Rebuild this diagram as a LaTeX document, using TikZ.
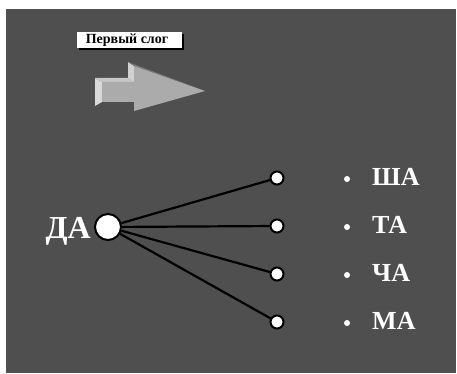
\documentclass[tikz,border=0pt]{standalone}
\usepackage{fontspec}
\setmainfont{Liberation Serif}
\usepackage{tikz}
\usetikzlibrary{calc}
\definecolor{slide}{HTML}{4F4F4F}

\begin{document}
\begin{tikzpicture}[x=1pt, y=-1pt,
		syl/.style={font=\bfseries\fontsize{26}{26}\selectfont, text=white, anchor=base west, inner sep=0pt},
		leaf/.style={circle, draw=black, line width=2pt, fill=white, inner sep=0pt, minimum size=13pt},
		link/.style={line width=2.2pt, black},
		dot/.style={circle, fill=white, inner sep=0pt, minimum size=6pt}]
			%%%%% START %%%%%
			
			\useasboundingbox (0, 0) rectangle (457, 374);
			\fill[white] (0, 0) rectangle (457, 374);
			\fill[slide] (6, 9) rectangle (456, 373);
			
			% title box
			\fill[black] (79, 34) rectangle (184, 50);
			\fill[white] (77, 32) rectangle (182, 48);
			\node[font=\bfseries\fontsize{14}{14}\selectfont, inner sep=0pt] (title) at (127, 40) {Первый слог};
			
			% block arrow
			\fill[black!15] (95, 78) -- (102, 82) -- (102, 102) -- (95, 106) -- cycle;
			\fill[black!22] (95, 78) -- (128, 78) -- (134, 82) -- (102, 82) -- cycle;
			\fill[black!18] (128, 62) -- (134, 66) -- (134, 82) -- (128, 78) -- cycle;
			\fill[black!52] (128, 62) -- (205, 91) -- (134, 66) -- cycle;
			\fill[black!33] (102, 82) -- (134, 82) -- (134, 66) -- (205, 91) -- (134, 111) -- (134, 102) -- (102, 102) -- cycle;
			
			% first syllable
			\node[circle, draw=black, line width=2pt, fill=white, inner sep=0pt, minimum size=26pt] (da) at (108, 227) {};
			\node[font=\bfseries\fontsize{32}{32}\selectfont, text=white, anchor=base east, inner sep=0pt] (dalbl) at (91, 238) {ДА};
			
			% second syllables
			\node[leaf] (s1) at (277, 178) {};
			\node[leaf] (s2) at (277, 226) {};
			\node[leaf] (s3) at (277, 274) {};
			\node[leaf] (s4) at (277, 322) {};
			
			\draw[link] (da) -- (s1);
			\draw[link] (da) -- (s2);
			\draw[link] (da) -- (s3);
			\draw[link] (da) -- (s4);
			
			\node[dot] (b1) at (347, 179) {};
			\node[dot] (b2) at (347, 227) {};
			\node[dot] (b3) at (347, 275) {};
			\node[dot] (b4) at (347, 323) {};
			
			\node[syl] (sha) at (372, 185) {ША};
			\node[syl] (ta) at (372, 233) {ТА};
			\node[syl] (cha) at (372, 281) {ЧА};
			\node[syl] (ma) at (372, 329) {МА};
			
			%%%%% END %%%%%
		\end{tikzpicture}
\end{document}
